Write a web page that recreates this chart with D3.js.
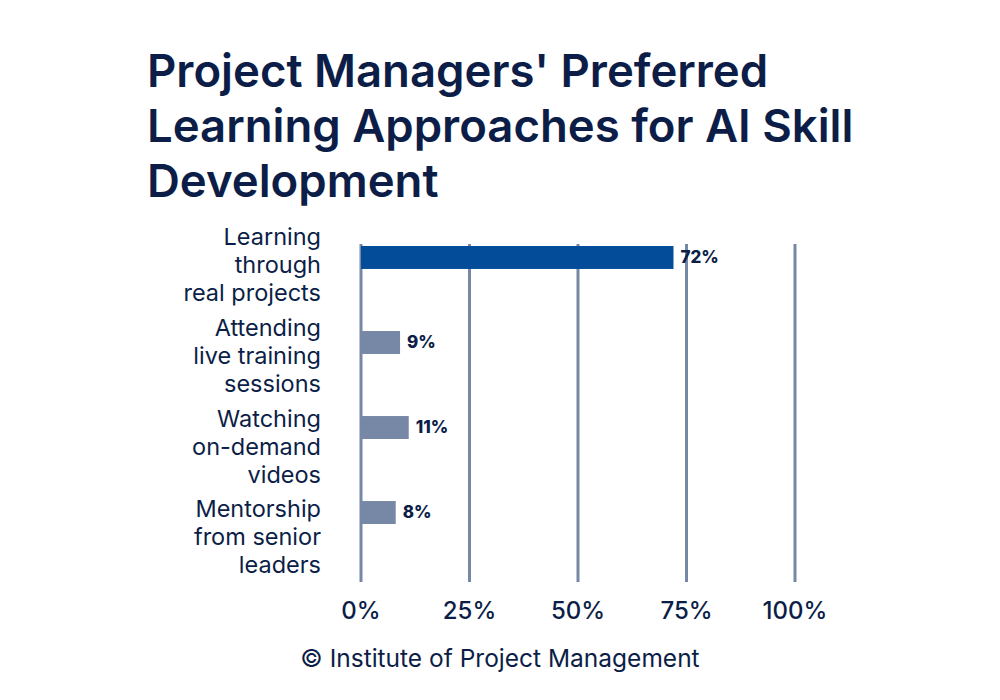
<!DOCTYPE html>
<html>
<head>
    <meta charset="utf-8">
    <script src="https://d3js.org/d3.v7.min.js"></script>
    <style>
        body {
            margin: 0;
            background: white;
        }

        svg text {
            font-family: Inter, "Noto Sans", sans-serif;
            fill: #0c1e47;
        }
    </style>
</head>
<body>
    <svg id="chart" width="1000" height="700"></svg>
    <script>
        // data
        const categories = [
            "Learning through real projects",
            "Attending live training sessions",
            "Watching on-demand videos",
            "Mentorship from senior leaders"
        ];
        const labelLines = [
            ["Learning", "through", "real projects"],
            ["Attending", "live training", "sessions"],
            ["Watching", "on-demand", "videos"],
            ["Mentorship", "from senior", "leaders"]
        ];
        const values = [72, 9, 11, 8];
        const tickValues = [0, 25, 50, 75, 100];
        const titleLines = ["Project Managers' Preferred", "Learning Approaches for AI Skill", "Development"];

        const svg = d3.select("#chart");

        const x = d3.scaleLinear().domain([0, 100]).range([361, 795]);

        // bars sit at the top of each band
        const y = d3.scaleBand()
            .domain(categories)
            .range([246, 524])
            .paddingInner(0.73)
            .paddingOuter(0)
            .align(0);

        // first line of each category label
        const labelY = d3.scalePoint()
            .domain(categories)
            .range([237, 509]);

        // title
        svg.append("g")
            .selectAll("text")
            .data(titleLines)
            .join("text")
            .attr("x", 147)
            .attr("y", (d, i) => 87 + i * 55)
            .attr("font-size", 45.5)
            .attr("font-weight", 600)
            .text(d => d);

        // gridlines
        svg.append("g")
            .selectAll("line")
            .data(tickValues)
            .join("line")
            .attr("x1", d => x(d))
            .attr("x2", d => x(d))
            .attr("y1", 244)
            .attr("y2", 582)
            .attr("stroke", "#7788a6")
            .attr("stroke-width", 3);

        // bars
        svg.append("g")
            .selectAll("rect")
            .data(values)
            .join("rect")
            .attr("x", x(0))
            .attr("y", (d, i) => y(categories[i]))
            .attr("width", d => x(d) - x(0))
            .attr("height", y.bandwidth())
            .attr("fill", (d, i) => i === 0 ? "#024c99" : "#7788a6");

        // value labels
        svg.append("g")
            .selectAll("text")
            .data(values)
            .join("text")
            .attr("x", d => x(d) + 7)
            .attr("y", (d, i) => y(categories[i]) + y.bandwidth() / 2)
            .attr("dy", "0.35em")
            .attr("font-size", 17)
            .attr("font-weight", 800)
            .text(d => d + "%");

        // category labels
        const catLabels = svg.append("g")
            .selectAll("text")
            .data(categories)
            .join("text")
            .attr("text-anchor", "end")
            .attr("font-size", 23.5)
            .attr("font-weight", 400);

        catLabels.selectAll("tspan")
            .data((d, i) => labelLines[i].map(t => ({ t, cat: d })))
            .join("tspan")
            .attr("x", 321)
            .attr("y", (d, j) => labelY(d.cat) + j * 28)
            .attr("dy", "0.35em")
            .text(d => d.t);

        // x axis tick labels
        svg.append("g")
            .selectAll("text")
            .data(tickValues)
            .join("text")
            .attr("x", d => x(d))
            .attr("y", 611)
            .attr("dy", "0.35em")
            .attr("text-anchor", "middle")
            .attr("font-size", 24)
            .attr("font-weight", 500)
            .text(d => d + "%");

        // source
        svg.append("text")
            .attr("x", 500)
            .attr("y", 658)
            .attr("dy", "0.35em")
            .attr("text-anchor", "middle")
            .attr("font-size", 24.5)
            .text("© Institute of Project Management");
    </script>
</body>
</html>
